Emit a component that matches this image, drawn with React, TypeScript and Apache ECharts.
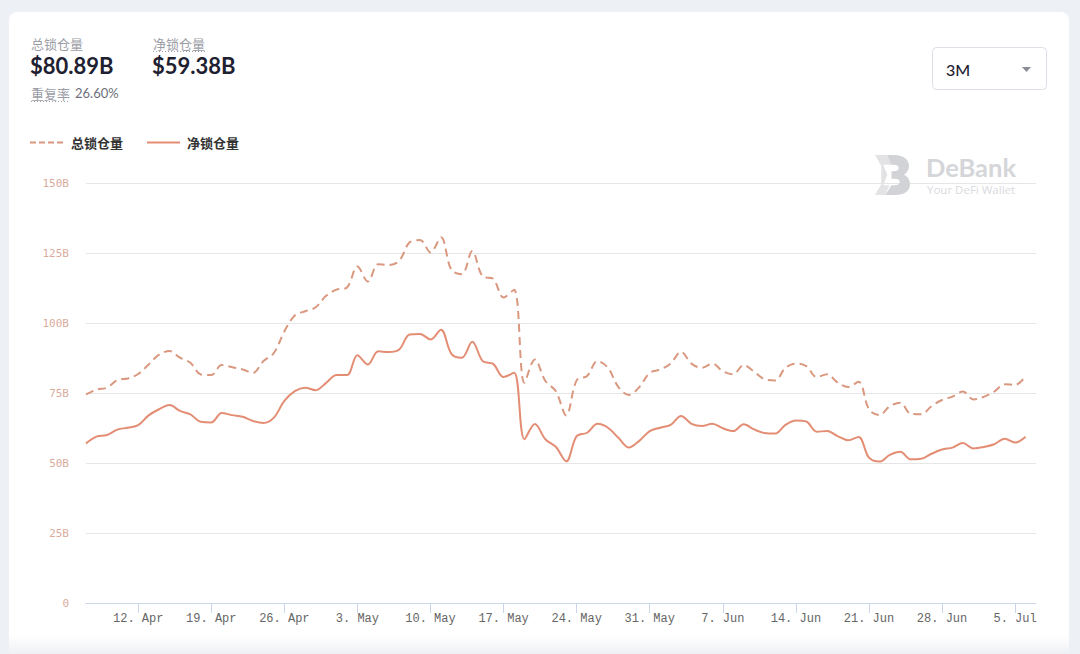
import React, { useEffect, useRef } from "react";
import * as echarts from "echarts";

const START_DATE = "2021-04-07";
const DAY_COUNT = 92;

const TICK_DATES = [
  "2021-04-12", "2021-04-19", "2021-04-26", "2021-05-03", "2021-05-10", "2021-05-17",
  "2021-05-24", "2021-05-31", "2021-06-07", "2021-06-14", "2021-06-21", "2021-06-28", "2021-07-05",
];
const TICK_LABELS = [
  "12. Apr", "19. Apr", "26. Apr", "3. May", "10. May", "17. May",
  "24. May", "31. May", "7. Jun", "14. Jun", "21. Jun", "28. Jun", "5. Jul",
];

const Y_TICKS = [0, 25, 50, 75, 100, 125, 150];

const TOTAL_TVL = [
  74.5, 76.2, 76.9, 79.6, 80.2, 81.8, 85.2, 88.7, 90.0, 87.6,
  85.8, 81.6, 81.4, 85.0, 84.2, 83.4, 82.2, 86.4, 89.3, 97.0,
  102.7, 104.2, 105.6, 109.7, 111.9, 112.7, 120.2, 114.8, 121.0, 120.7,
  122.2, 128.8, 129.6, 125.2, 130.6, 119.0, 117.4, 125.7, 116.6, 115.8,
  109.1, 111.9, 78.7, 87.0, 79.3, 75.7, 67.0, 79.5, 81.1, 86.4,
  84.0, 77.1, 74.3, 77.1, 82.2, 83.4, 85.5, 89.7, 85.5, 84.0,
  85.5, 82.8, 81.7, 85.0, 82.6, 79.9, 79.5, 84.0, 85.5, 84.6,
  80.7, 81.7, 78.7, 77.1, 79.0, 69.2, 67.1, 70.3, 71.5, 67.6,
  67.4, 70.3, 72.5, 73.7, 75.5, 72.7, 73.6, 75.5, 78.1, 77.9,
  80.89,
];

const NET_TVL = [
  57.0, 59.4, 60.0, 61.9, 62.6, 63.5, 67.0, 69.2, 70.7, 68.6,
  67.4, 64.7, 64.5, 67.9, 67.1, 66.5, 65.0, 64.3, 66.2, 72.2,
  75.7, 76.9, 76.0, 78.6, 81.4, 81.4, 88.5, 85.2, 89.9, 89.6,
  90.5, 95.9, 96.1, 94.1, 97.6, 89.0, 87.6, 93.3, 86.4, 85.4,
  80.7, 82.2, 58.5, 63.9, 58.5, 55.8, 50.6, 59.6, 60.8, 64.0,
  62.6, 59.0, 55.5, 57.9, 61.4, 62.6, 63.6, 66.8, 64.0, 63.2,
  64.0, 62.4, 61.4, 63.8, 62.0, 60.7, 60.5, 63.6, 65.2, 64.8,
  61.2, 61.4, 59.6, 58.1, 59.3, 51.9, 50.5, 52.9, 54.0, 51.3,
  51.5, 53.3, 54.8, 55.5, 57.1, 55.2, 55.7, 56.7, 58.7, 57.3,
  59.38,
];

const SERIES_NAMES = ["总锁仓量", "净锁仓量"];
const HEADER = {
  totalLabel: "总锁仓量",
  totalValue: "$80.89B",
  netLabel: "净锁仓量",
  netValue: "$59.38B",
  overlapLabel: "重复率",
  overlapValue: "26.60%",
  range: "3M",
};

const DASH_COLOR = "#d9987f";
const SOLID_COLOR = "#e38e74";

function buildDates(): string[] {
  const out: string[] = [];
  const d = new Date(START_DATE + "T00:00:00Z");
  for (let i = 0; i < DAY_COUNT; i++) {
    const t = new Date(d.getTime() + i * 86400000);
    out.push(t.toISOString().slice(0, 10));
  }
  return out;
}

const LOGO_B =
  "M12 0 H19 C28 0 33 5 33 10 C33 14 31 17 28 18 C32 20 34 23 34 27 C34 33 29 37 20 37 H10 L16 28 H19 C22 28 24 27 24 25 C24 23 22 22 19 22 H16 V15 H18 C21 15 23 14 23 12 C23 10 21 9 18 9 H16 Z";
const LOGO_D =
  "M0 0 H14 L18 9 H8 L12 18 L8 28 H14 L10 37 H0 L6 27 L6 10 Z";

let registered = false;
function registerLogo() {
  if (registered) return;
  registered = true;
  echarts.graphic.registerShape("logoB", (echarts.graphic as any).extendPath(LOGO_B, {}));
  echarts.graphic.registerShape("logoD", (echarts.graphic as any).extendPath(LOGO_D, {}));
}

export default function App() {
  const ref = useRef<HTMLDivElement>(null);

  useEffect(() => {
    if (!ref.current) return;
    registerLogo();
    const chart = echarts.init(ref.current, undefined, { renderer: "svg" });
    const dates = buildDates();
    const tickMap: Record<string, string> = {};
    TICK_DATES.forEach((d, i) => (tickMap[d] = TICK_LABELS[i]));
    const isTick = (_idx: number, value: string) => tickMap[value] !== undefined;

    const sans = "Lato, 'Noto Sans CJK SC', 'Noto Sans', sans-serif";
    const cjk = "'Noto Sans CJK SC', Lato, sans-serif";

    const option: any = {
      animation: false,
      backgroundColor: "#edf0f5",
      grid: { left: 86, right: 44, top: 183, bottom: 51, containLabel: false },
      xAxis: {
        type: "category",
        data: dates,
        boundaryGap: false,
        axisLine: { show: true, lineStyle: { color: "#ccd6eb", width: 1 } },
        axisTick: { show: true, interval: isTick, length: 10, lineStyle: { color: "#ccd6eb" } },
        axisLabel: {
          interval: isTick,
          formatter: (v: string) => tickMap[v] || "",
          fontFamily: "'Liberation Mono', 'DejaVu Sans Mono', monospace",
          fontSize: 12,
          color: "#666666",
          margin: 10,
        },
        splitLine: { show: false },
      },
      yAxis: {
        type: "value",
        min: 0,
        max: 150,
        interval: 25,
        axisLine: { show: false },
        axisTick: { show: false },
        axisLabel: {
          formatter: (v: number) => (Y_TICKS.includes(v) ? (v === 0 ? "0" : v + "B") : ""),
          fontFamily: "'DejaVu Sans Mono', monospace",
          fontSize: 11,
          color: "#dbab9d",
          margin: 17,
        },
        splitLine: { lineStyle: { color: "#e6e6e6", width: 1 } },
      },
      series: [
        {
          name: SERIES_NAMES[0],
          type: "line",
          data: TOTAL_TVL,
          smooth: 0.35,
          showSymbol: false,
          symbol: "none",
          lineStyle: { color: DASH_COLOR, width: 2, type: [8, 5] },
          z: 3,
        },
        {
          name: SERIES_NAMES[1],
          type: "line",
          data: NET_TVL,
          smooth: 0.35,
          showSymbol: false,
          symbol: "none",
          lineStyle: { color: SOLID_COLOR, width: 2 },
          z: 4,
        },
      ],
      graphic: [
        // card
        {
          type: "rect",
          z: -10,
          shape: { x: 9, y: 12, width: 1060, height: 660, r: 8 },
          style: { fill: "#ffffff" },
        },
        {
          type: "rect",
          z: -9,
          shape: { x: 9, y: 634, width: 1060, height: 20 },
          style: {
            fill: new echarts.graphic.LinearGradient(0, 0, 0, 1, [
              { offset: 0, color: "rgba(243,244,247,0)" },
              { offset: 1, color: "rgba(238,240,244,1)" },
            ]),
          },
        },
        // header
        {
          type: "text",
          z: 100,
          style: { text: HEADER.totalLabel, x: 31, y: 43, verticalAlign: "middle", font: `13px ${cjk}`, fill: "#9b9da6" },
        },
        {
          type: "text",
          z: 100,
          style: { text: HEADER.totalValue, x: 30, y: 65, verticalAlign: "middle", font: `bold 22px ${sans}`, fill: "#1e2131" },
        },
        {
          type: "text",
          z: 100,
          style: { text: HEADER.netLabel, x: 153, y: 43, verticalAlign: "middle", font: `13px ${cjk}`, fill: "#9b9da6" },
        },
        {
          type: "line",
          z: 100,
          shape: { x1: 153, y1: 51.5, x2: 205, y2: 51.5 },
          style: { stroke: "#a0a2ab", lineWidth: 1, lineDash: [1, 2] },
        },
        {
          type: "text",
          z: 100,
          style: { text: HEADER.netValue, x: 152, y: 65, verticalAlign: "middle", font: `bold 22px ${sans}`, fill: "#1e2131" },
        },
        {
          type: "text",
          z: 100,
          style: { text: HEADER.overlapLabel, x: 31, y: 93, verticalAlign: "middle", font: `13px ${cjk}`, fill: "#9b9da6" },
        },
        {
          type: "line",
          z: 100,
          shape: { x1: 31, y1: 101.5, x2: 70, y2: 101.5 },
          style: { stroke: "#a0a2ab", lineWidth: 1, lineDash: [1, 2] },
        },
        {
          type: "text",
          z: 100,
          style: { text: HEADER.overlapValue, x: 75, y: 93, verticalAlign: "middle", font: `13px ${sans}`, fill: "#6d707a" },
        },
        // dropdown
        {
          type: "rect",
          z: 100,
          shape: { x: 932.5, y: 47.5, width: 114, height: 42, r: 4 },
          style: { fill: "#ffffff", stroke: "#dcdfe6", lineWidth: 1 },
        },
        {
          type: "text",
          z: 101,
          style: { text: HEADER.range, x: 946, y: 69, verticalAlign: "middle", font: `500 16px ${sans}`, fill: "#1e2131" },
        },
        {
          type: "polygon",
          z: 101,
          shape: { points: [[1022, 67], [1031, 67], [1026.5, 72]] },
          style: { fill: "#8a8d96" },
        },
        // legend
        {
          type: "line",
          z: 100,
          shape: { x1: 30, y1: 142.5, x2: 63, y2: 142.5 },
          style: { stroke: DASH_COLOR, lineWidth: 2, lineDash: [6, 3] },
        },
        {
          type: "text",
          z: 100,
          style: { text: SERIES_NAMES[0], x: 71, y: 142, verticalAlign: "middle", font: `bold 13px ${cjk}`, fill: "#333333" },
        },
        {
          type: "line",
          z: 100,
          shape: { x1: 147, y1: 142.5, x2: 180, y2: 142.5 },
          style: { stroke: SOLID_COLOR, lineWidth: 2 },
        },
        {
          type: "text",
          z: 100,
          style: { text: SERIES_NAMES[1], x: 187, y: 142, verticalAlign: "middle", font: `bold 13px ${cjk}`, fill: "#333333" },
        },
        // watermark
        {
          type: "logoD",
          z: 100,
          x: 875,
          y: 155,
          scaleX: 1.03,
          scaleY: 1.08,
          style: { fill: "#e3e3e5" },
        },
        {
          type: "logoB",
          z: 100,
          x: 875,
          y: 155,
          scaleX: 1.03,
          scaleY: 1.08,
          style: { fill: "#d2d3d6" },
        },
        {
          type: "text",
          z: 100,
          style: { text: "DeBank", x: 926, y: 167, verticalAlign: "middle", font: `bold 25.5px Lato, sans-serif`, fill: "#d5d6d9" },
        },
        {
          type: "text",
          z: 100,
          style: { text: "Your DeFi Wallet", x: 927, y: 189.5, verticalAlign: "middle", font: `11.5px 'Open Sans', Lato, sans-serif`, lineHeight: 12, fill: "#d9dadd" },
        },
      ],
    };
    chart.setOption(option);
    return () => chart.dispose();
  }, []);

  return (
    <div
      ref={ref}
      style={{ position: "absolute", left: 0, top: 0, width: 1080, height: 654 }}
    />
  );
}
